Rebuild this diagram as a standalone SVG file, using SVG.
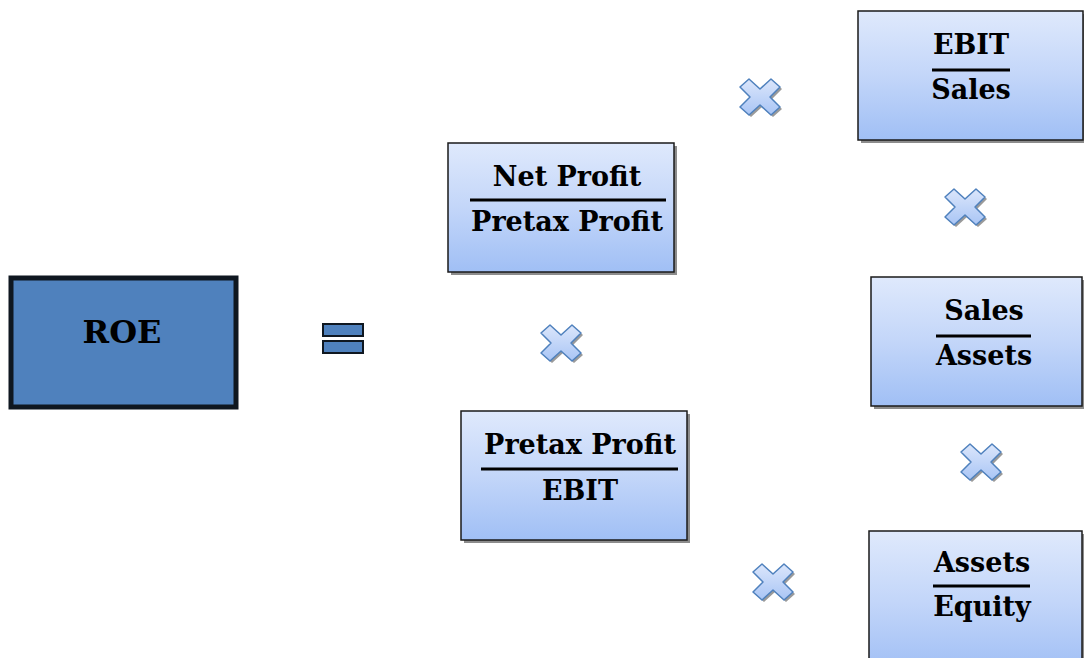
<svg xmlns="http://www.w3.org/2000/svg" width="1084" height="658" viewBox="0 0 1084 658">
<defs>
<linearGradient id="g" x1="0" y1="0" x2="0" y2="1">
<stop offset="0" stop-color="#dfe9fc"/>
<stop offset="0.5" stop-color="#c3d6f9"/>
<stop offset="1" stop-color="#a0bff5"/>
</linearGradient>
<linearGradient id="gx" x1="0" y1="0" x2="0" y2="1">
<stop offset="0" stop-color="#dbe6fb"/>
<stop offset="1" stop-color="#a9c5f5"/>
</linearGradient>
<path id="x" d="M-20,-10 L-11,-18 L0,-8 L11,-18 L20,-10 L10,0 L20,10 L11,18 L0,8 L-11,18 L-20,10 L-10,0 Z"/>
</defs>
<style>
.box{fill:url(#g);stroke:#1a1a1a;stroke-width:1.5}
.sh{fill:#8c8c8c}
.t{font-family:"DejaVu Serif",serif;font-weight:bold;font-size:27px;fill:#000;text-anchor:middle}
.bar{stroke:#000;stroke-width:3}
.xs{fill:#9a9a9a}
.xf{fill:url(#gx);stroke:#4f81bd;stroke-width:1.5;stroke-linejoin:round}
</style>
<rect width="1084" height="658" fill="#fff"/>
<g id="roe">
<rect x="11" y="278" width="225" height="129" fill="#4f81bd" stroke="#0f1720" stroke-width="5"/>
<text x="122" y="343" style="font-family:'DejaVu Serif',serif;font-weight:bold;font-size:32px" text-anchor="middle">ROE</text>
</g>
<g id="equals">
<rect x="323" y="324" width="40" height="12" fill="#4f81bd" stroke="#0f1720" stroke-width="2"/>
<rect x="323" y="341" width="40" height="12" fill="#4f81bd" stroke="#0f1720" stroke-width="2"/>
</g>
<g id="net-profit">
<rect class="sh" x="451" y="146" width="226" height="129"/>
<rect class="box" x="448" y="143" width="226" height="129"/>
<text class="t" x="567" y="186">Net Profit</text>
<line class="bar" x1="470" y1="200" x2="666" y2="200"/>
<text class="t" x="567" y="231">Pretax Profit</text>
</g>
<g id="pretax-profit">
<rect class="sh" x="464" y="414" width="226" height="129"/>
<rect class="box" x="461" y="411" width="226" height="129"/>
<text class="t" x="580" y="454">Pretax Profit</text>
<line class="bar" x1="481" y1="469" x2="678" y2="469"/>
<text class="t" x="580" y="500">EBIT</text>
</g>
<g id="ebit-sales">
<rect class="sh" x="861" y="14" width="226" height="129"/>
<rect class="box" x="858" y="11" width="225" height="129"/>
<text class="t" x="971" y="54">EBIT</text>
<line class="bar" x1="932" y1="70" x2="1010" y2="70"/>
<text class="t" x="971" y="99">Sales</text>
</g>
<g id="sales-assets">
<rect class="sh" x="874" y="280" width="226" height="129"/>
<rect class="box" x="871" y="277" width="211" height="129"/>
<text class="t" x="984" y="320">Sales</text>
<line class="bar" x1="936" y1="336" x2="1031" y2="336"/>
<text class="t" x="984" y="365">Assets</text>
</g>
<g id="assets-equity">
<rect class="sh" x="872" y="534" width="226" height="129"/>
<rect class="box" x="869" y="531" width="213" height="140"/>
<text class="t" x="982" y="572">Assets</text>
<line class="bar" x1="933" y1="586" x2="1030" y2="586"/>
<text class="t" x="982" y="616">Equity</text>
</g>
<g id="connectors">
<g transform="translate(760,97)"><use href="#x" class="xs" x="2" y="2"/><use href="#x" class="xf"/></g>
<g transform="translate(965,207)"><use href="#x" class="xs" x="2" y="2"/><use href="#x" class="xf"/></g>
<g transform="translate(561,343)"><use href="#x" class="xs" x="2" y="2"/><use href="#x" class="xf"/></g>
<g transform="translate(981,462)"><use href="#x" class="xs" x="2" y="2"/><use href="#x" class="xf"/></g>
<g transform="translate(773,582)"><use href="#x" class="xs" x="2" y="2"/><use href="#x" class="xf"/></g>
</g>
</svg>
